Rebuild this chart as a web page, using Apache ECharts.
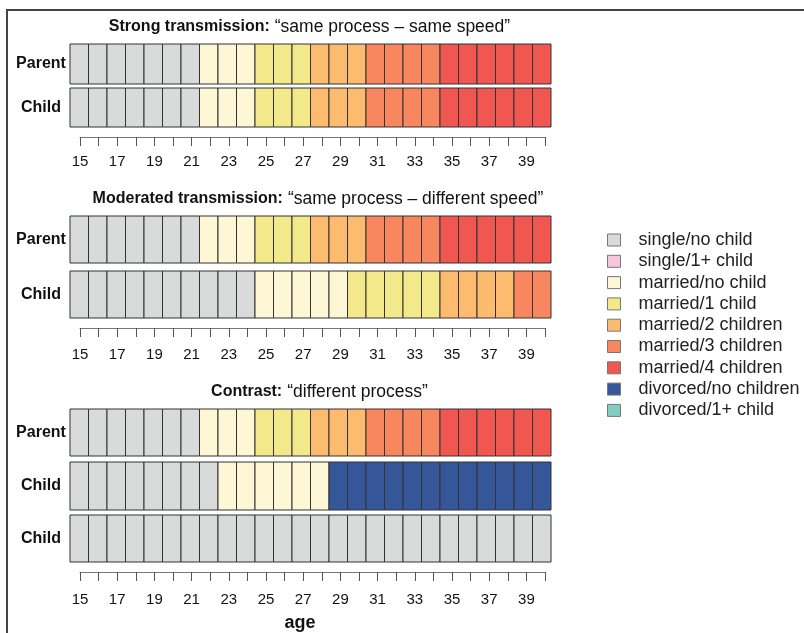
<!DOCTYPE html>
<html><head><meta charset="utf-8">
<script src="https://cdn.jsdelivr.net/npm/echarts@6/dist/echarts.min.js"></script>
<style>html,body{margin:0;padding:0;background:#fff;}#c{width:804px;height:633px;}</style>
</head><body><div id="c"></div>
<script>
// ---- data ----
const ages = [15,16,17,18,19,20,21,22,23,24,25,26,27,28,29,30,31,32,33,34,35,36,37,38,39,40];
const ageTickLabels = [15,17,19,21,23,25,27,29,31,33,35,37,39];
const stateCodes = ['S0','S1','M0','M1','M2','M3','M4','D0','D1'];
const stateNames = ['single/no child','single/1+ child','married/no child','married/1 child','married/2 children','married/3 children','married/4 children','divorced/no children','divorced/1+ child'];

const strongParent = ['S0','S0','S0','S0','S0','S0','S0','M0','M0','M0','M1','M1','M1','M2','M2','M2','M3','M3','M3','M3','M4','M4','M4','M4','M4','M4'];
const strongChild  = ['S0','S0','S0','S0','S0','S0','S0','M0','M0','M0','M1','M1','M1','M2','M2','M2','M3','M3','M3','M3','M4','M4','M4','M4','M4','M4'];
const moderatedParent = ['S0','S0','S0','S0','S0','S0','S0','M0','M0','M0','M1','M1','M1','M2','M2','M2','M3','M3','M3','M3','M4','M4','M4','M4','M4','M4'];
const moderatedChild  = ['S0','S0','S0','S0','S0','S0','S0','S0','S0','S0','M0','M0','M0','M0','M0','M1','M1','M1','M1','M1','M2','M2','M2','M2','M3','M3'];
const contrastParent = ['S0','S0','S0','S0','S0','S0','S0','M0','M0','M0','M1','M1','M1','M2','M2','M2','M3','M3','M3','M3','M4','M4','M4','M4','M4','M4'];
const contrastChild1 = ['S0','S0','S0','S0','S0','S0','S0','S0','M0','M0','M0','M0','M0','M0','D0','D0','D0','D0','D0','D0','D0','D0','D0','D0','D0','D0'];
const contrastChild2 = ['S0','S0','S0','S0','S0','S0','S0','S0','S0','S0','S0','S0','S0','S0','S0','S0','S0','S0','S0','S0','S0','S0','S0','S0','S0','S0'];

const panelTitles = [
  ['Strong transmission:', '“same process – same speed”'],
  ['Moderated transmission:', '“same process – different speed”'],
  ['Contrast:', '“different process”']
];
const axisTitle = 'age';

// ---- style / layout ----
const stateColors = ['#D9DADA','#F8C6DA','#FDF7D6','#F4E98A','#FDBB6F','#F8865E','#F05750','#36569A','#80CFC1'];
const FONT = 'Liberation Sans, Arial, Helvetica, sans-serif';

const rows = [
  {label:'Parent', seq: strongParent,    top:44,  h:40},
  {label:'Child',  seq: strongChild,     top:88,  h:39},
  {label:'Parent', seq: moderatedParent, top:216, h:47},
  {label:'Child',  seq: moderatedChild,  top:271, h:47},
  {label:'Parent', seq: contrastParent,  top:409, h:47},
  {label:'Child',  seq: contrastChild1,  top:462, h:48},
  {label:'Child',  seq: contrastChild2,  top:515, h:47}
];
const axisRows = [137, 328, 572];
const axisLabelMargin = [17, 19, 20];
const titleY = [13, 185, 378];
const titleX = [304.5, 313, 314.5];

const grids = [], xAxes = [], yAxes = [], series = [];
const CELL_LEFT = 70, CELL_W = 481;

rows.forEach((r, i) => {
  grids.push({left: CELL_LEFT, width: CELL_W, top: r.top, height: r.h});
  xAxes.push({type:'category', gridIndex:i, data: ages.map(String), show:false});
  yAxes.push({type:'category', gridIndex:i, data:[r.label],
    axisLine:{show:false}, axisTick:{show:false},
    axisLabel:{show:true, align:'center', margin:29, fontFamily:FONT, fontSize:16, fontWeight:'bold', color:'#111'}});
  series.push({
    type:'custom', xAxisIndex:i, yAxisIndex:i, silent:true,
    data: r.seq.map((s, k) => [k, 0, stateCodes.indexOf(s)]),
    renderItem: function(params, api){
      const c = api.coord([api.value(0), api.value(1)]);
      const s = api.size([1, 1]);
      return {type:'rect',
        shape:{x: c[0]-s[0]/2, y: c[1]-s[1]/2, width: s[0], height: s[1]},
        style:{fill: stateColors[api.value(2)], stroke:'#333', lineWidth:1}};
    }
  });
});

axisRows.forEach((y, j) => {
  const gi = grids.length;
  grids.push({left: 80, width: 465, top: y - 1, height: 1});
  xAxes.push({type:'value', gridIndex:gi, min:ages[0], max:ages[ages.length-1], interval:1,
    axisLine:{show:true, lineStyle:{color:'#777', width:1}},
    axisTick:{show:true, length:9, lineStyle:{color:'#555', width:1}},
    splitLine:{show:false},
    axisLabel:{show:true, margin:axisLabelMargin[j], fontFamily:FONT, fontSize:15, color:'#111',
      formatter: v => ageTickLabels.indexOf(v) >= 0 ? String(v) : ''}
  });
  yAxes.push({type:'value', gridIndex:gi, show:false});
});

// legend dummy series
stateNames.forEach((n, k) => {
  series.push({type:'bar', name:n, xAxisIndex:0, yAxisIndex:0, data:[], itemStyle:{color: stateColors[k]}});
});

const titles = panelTitles.map((t, j) => ({
  text: '{b|' + t[0] + '} {n|' + t[1] + '}',
  left: titleX[j], textAlign:'center', top: titleY[j],
  textStyle:{fontWeight:'normal', rich:{
    b:{fontFamily:FONT, fontSize:16, fontWeight:'bold', color:'#111'},
    n:{fontFamily:FONT, fontSize:17.5, fontWeight:'normal', color:'#111'}
  }}
}));

const chart = echarts.init(document.getElementById('c'), null, {renderer:'canvas'});
chart.setOption({
  animation:false,
  backgroundColor:'#fff',
  title: titles,
  grid: grids, xAxis: xAxes, yAxis: yAxes, series: series,
  legend:{
    orient:'vertical', left:602, top:226, icon:'rect', itemWidth:13, itemHeight:12, itemGap:3.3,
    selectedMode:false,
    itemStyle:{borderColor:'#777', borderWidth:1},
    textStyle:{fontFamily:FONT, fontSize:18, color:'#222', lineHeight:16, padding:[0,0,0,13]},
    data: stateNames
  },
  graphic:[
    {type:'polyline', silent:true, shape:{points:[[7,633],[7,10],[804,10]]},
      style:{stroke:'#444', lineWidth:2, fill:null}},
    {type:'text', silent:true, x:300, y:623,
      style:{text: axisTitle, font:'bold 18px ' + FONT, fill:'#111', align:'center', verticalAlign:'middle'}}
  ]
});
</script></body></html>
